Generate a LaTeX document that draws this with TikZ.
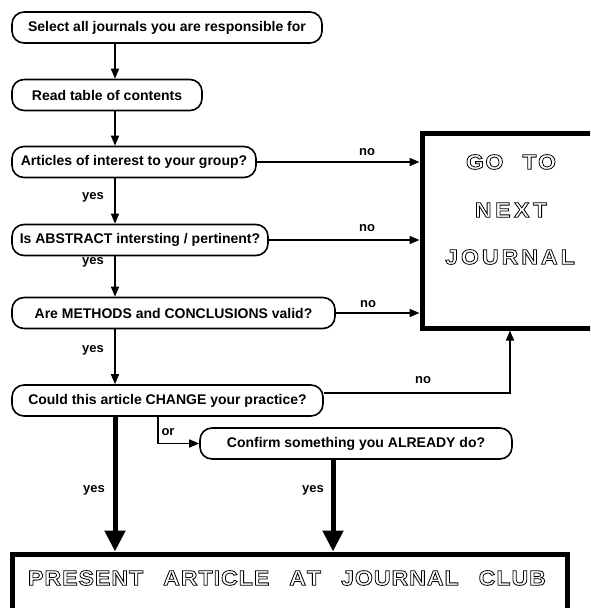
\documentclass[tikz,border=0pt]{standalone}
\usepackage{fontspec}
\setmainfont{Liberation Sans}
\newfontfamily\outfont{Liberation Sans}[FakeStretch=1.1]
\usetikzlibrary{arrows.meta}
\newcommand\hollow[1]{\special{pdf:literal direct 1 Tr 0.8 w}#1\special{pdf:literal direct 0 Tr}}
\begin{document}
\begin{tikzpicture}[x=1pt,y=-1pt,
  every node/.style={font=\fontsize{14}{16}\selectfont\bfseries},
  box/.style={draw,line width=1.6pt,rounded corners=12pt,minimum height=31pt,inner sep=0pt},
  bigbox/.style={draw,line width=5pt,inner sep=0pt},
  arr/.style={line width=1.5pt,-{Triangle[length=10pt,width=8pt]}},
  thick arr/.style={line width=5pt,-{Triangle[length=21pt,width=20pt]}},
  lab/.style={font=\fontsize{13}{14}\selectfont\bfseries,inner sep=0pt},
  outtxt/.style={font=\outfont\bfseries\fontsize{21}{23}\selectfont,inner sep=0pt}]
\clip (0,0) rectangle (590,608);
\fill[white] (0,0) rectangle (590,608);

\node[box,minimum width=310pt] (n1) at (167,27.5) {Select all journals you are responsible for};
\node[box,minimum width=190pt] (n2) at (107,95) {Read table of contents};
\node[box,minimum width=244pt] (n3) at (134,162) {Articles of interest to your group?};
\node[box,minimum width=256pt] (n4) at (140,240) {Is ABSTRACT intersting / pertinent?};
\node[box,minimum width=323pt] (n5) at (173.5,313) {Are METHODS and CONCLUSIONS valid?};
\node[box,minimum width=311pt] (n6) at (167.5,400.5) {Could this article CHANGE your practice?};
\node[box,minimum width=312pt] (n7) at (356,443.5) {Confirm something you ALREADY do?};

\node[bigbox,minimum width=180pt,minimum height=195pt] (go) at (512,230.5) {};
\node[bigbox,minimum width=555pt,minimum height=70pt] (pr) at (289.5,589) {};

\coordinate (xa) at (115,0);
\coordinate (xb) at (333,0);
\coordinate (xc) at (158,0);
\coordinate (xd) at (510,0);
\coordinate (yd) at (0,393);

\draw[arr] (n1.south -| xa) -- (n2.north -| xa);
\draw[arr] (n2.south -| xa) -- (n3.north -| xa);
\draw[arr] (n3.south -| xa) -- (n4.north -| xa);
\draw[arr] (n4.south -| xa) -- (n5.north -| xa);
\draw[arr] (n5.south -| xa) -- (n6.north -| xa);
\draw[arr] (n3.east) -- (go.west |- n3.east);
\draw[arr] (n4.east) -- (go.west |- n4.east);
\draw[arr] (n5.east) -- (go.west |- n5.east);
\draw[arr] (n6.east |- yd) -- (xd |- yd) -- (go.south -| xd);
\draw[arr] (n6.south -| xc) |- (n7.west);
\draw[thick arr] (n6.south -| xa) -- (pr.north -| xa);
\draw[thick arr] (n7.south -| xb) -- (pr.north -| xb);

\node[lab] (y1) at (93,197) {yes};
\node[lab] (y2) at (93,262) {yes};
\node[lab] (y3) at (93,350) {yes};
\node[lab] (y4) at (94,490) {yes};
\node[lab] (y5) at (313,490) {yes};
\node[lab] (no1) at (367,152) {no};
\node[lab] (no2) at (367,228) {no};
\node[lab] (no3) at (368,304) {no};
\node[lab] (no4) at (423,380) {no};
\node[lab] (or) at (168,432) {or};

\node[outtxt] (g1) at (511,162) {\hollow{G\hspace{1.5pt}O\hspace{19pt}T\hspace{1.5pt}O}};
\node[outtxt] (g2) at (511,210) {\hollow{N\hspace{3.5pt}E\hspace{3.5pt}X\hspace{3.5pt}T}};
\node[outtxt] (g3) at (510,257) {\hollow{J\hspace{3pt}O\hspace{3pt}U\hspace{3pt}R\hspace{3pt}N\hspace{3pt}A\hspace{3pt}L}};
\node[outtxt] (p1) at (287,578) {\hollow{P\hspace{1pt}R\hspace{1pt}E\hspace{1pt}S\hspace{1pt}E\hspace{1pt}N\hspace{1pt}T\hspace{20pt}A\hspace{1pt}R\hspace{1pt}T\hspace{1pt}I\hspace{1pt}C\hspace{1pt}L\hspace{1pt}E\hspace{20pt}A\hspace{1pt}T\hspace{20pt}J\hspace{1pt}O\hspace{1pt}U\hspace{1pt}R\hspace{1pt}N\hspace{1pt}A\hspace{1pt}L\hspace{20pt}C\hspace{1pt}L\hspace{1pt}U\hspace{1pt}B}};
\end{tikzpicture}
\end{document}
